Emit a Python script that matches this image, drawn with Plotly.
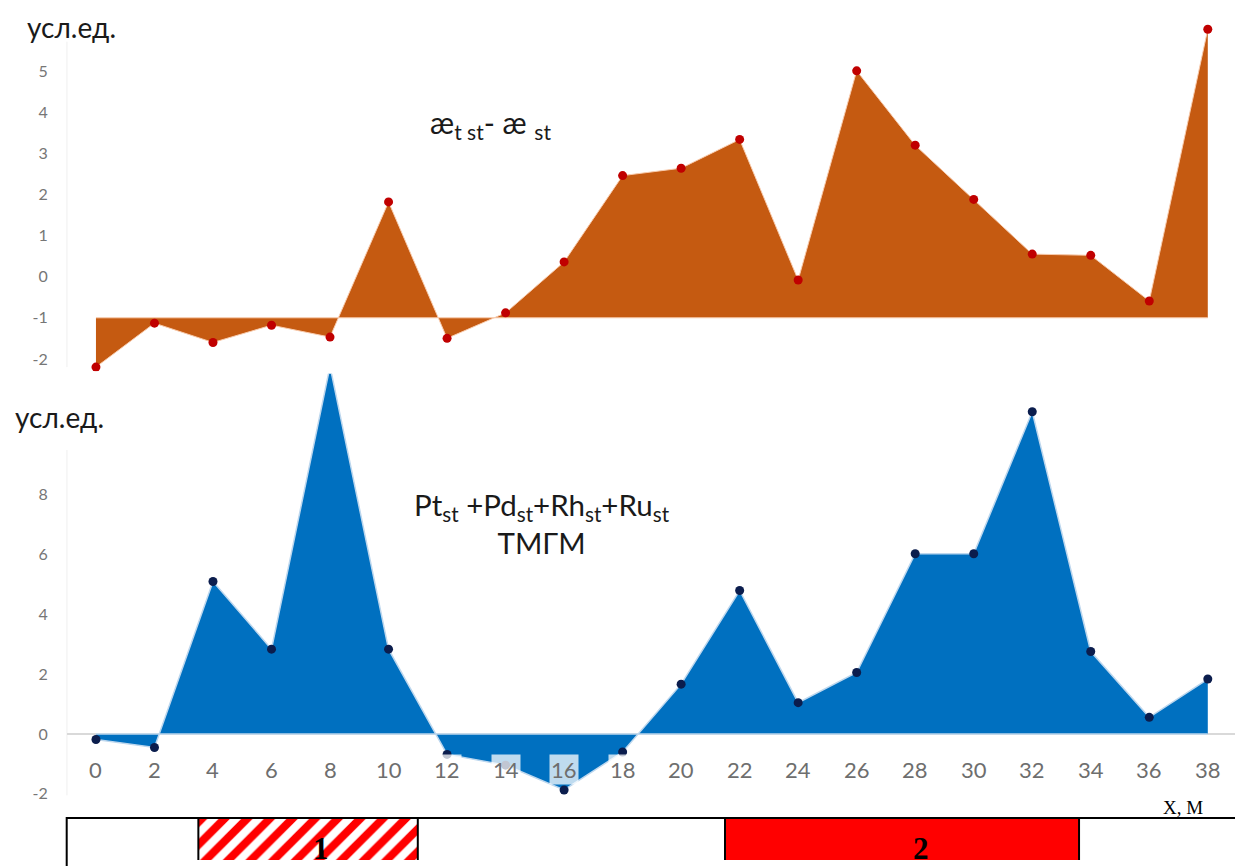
import plotly.graph_objects as go

# ---------------- data ----------------
distance = [0, 2, 4, 6, 8, 10, 12, 14, 16, 18, 20, 22, 24, 26, 28, 30, 32, 34, 36, 38]
x_tick_labels = ["0", "2", "4", "6", "8", "10", "12", "14", "16", "18",
                 "20", "22", "24", "26", "28", "30", "32", "34", "36", "38"]

# æ_t st - æ_st  (top chart)
kappa_diff = [-2.20, -1.13, -1.60, -1.18, -1.47, 1.82, -1.50, -0.88, 0.36, 2.46,
              2.64, 3.34, -0.08, 5.01, 3.20, 1.88, 0.55, 0.52, -0.59, 6.02]
kappa_base = -1          # horizontal axis crossing of the top chart
kappa_ticks = [-2, -1, 0, 1, 2, 3, 4, 5]
kappa_tick_labels = ["-2", "-1", "0", "1", "2", "3", "4", "5"]

# Pt_st + Pd_st + Rh_st + Ru_st  TMGM (bottom chart)
pgm_sum = [-0.18, -0.45, 5.10, 2.84, 12.3, 2.84, -0.68, -1.04, -1.87, -0.60,
           1.67, 4.80, 1.05, 2.06, 6.03, 6.03, 10.78, 2.76, 0.56, 1.84]
pgm_base = 0
pgm_ticks = [-2, 0, 2, 4, 6, 8]
pgm_tick_labels = ["-2", "0", "2", "4", "6", "8"]

# zones on the profile (bottom strip)
zone_labels = ["1", "2"]
zone_start = [3.5, 21.5]
zone_end = [11.0, 33.6]
zone_label_pos = [7.7, 28.2]

# ---------------- layout helpers ----------------
W, H = 1235, 866
VSCALE = 1.0 / 0.993   # compensates the slight vertical compression seen when rendered


def py(p):
    return max(0.0, min(1.0, 1 - p * VSCALE / H))


XDOM = [66.7 / W, 1.0]
XRANGE = [-1, 38.93]
FONT = "Lato"
TICK_COLOR = "#767676"

fig = go.Figure()

# ---- top chart: baseline + area ----
fig.add_trace(go.Scatter(
    x=distance, y=[kappa_base] * len(distance), mode="lines",
    line=dict(color="#f8cbad", width=1), xaxis="x", yaxis="y",
    showlegend=False, hoverinfo="skip"))
fig.add_trace(go.Scatter(
    x=distance, y=kappa_diff, mode="lines+markers", fill="tonexty",
    fillcolor="#c55a11", line=dict(color="#f8cbad", width=1),
    marker=dict(color="#c00000", size=9), xaxis="x", yaxis="y",
    showlegend=False))

# ---- bottom chart: baseline + area ----
fig.add_trace(go.Scatter(
    x=distance, y=[pgm_base] * len(distance), mode="lines",
    line=dict(color="#bdd7ee", width=1.5), xaxis="x2", yaxis="y2",
    showlegend=False, hoverinfo="skip"))
fig.add_trace(go.Scatter(
    x=distance, y=pgm_sum, mode="lines+markers", fill="tonexty",
    fillcolor="#0070c0", line=dict(color="#bdd7ee", width=1.5),
    marker=dict(color="#0b1d4d", size=9), xaxis="x2", yaxis="y2",
    showlegend=False))

# ---- zone strip ----
fig.add_trace(go.Bar(
    x=[zone_end[0] - zone_start[0]], base=[zone_start[0]], y=[-0.3], width=1.6,
    orientation="h", xaxis="x3", yaxis="y3", showlegend=False, cliponaxis=False,
    marker=dict(color="white", line=dict(color="black", width=2),
                pattern=dict(shape="/", fgcolor="#ff0000", bgcolor="white",
                             fgopacity=1, size=16, solidity=0.5,
                             fillmode="replace"))))
fig.add_trace(go.Bar(
    x=[zone_end[1] - zone_start[1]], base=[zone_start[1]], y=[-0.3], width=1.6,
    orientation="h", xaxis="x3", yaxis="y3", showlegend=False, cliponaxis=False,
    marker=dict(color="#ff0000", line=dict(color="black", width=2))))

hidden_x = dict(domain=XDOM, range=XRANGE, showgrid=False, zeroline=False,
                showticklabels=False, ticks="", showline=False)

fig.update_layout(
    width=W, height=H,
    margin=dict(l=0, r=0, t=0, b=0),
    paper_bgcolor="white", plot_bgcolor="rgba(0,0,0,0)",
    barmode="overlay",
    xaxis=dict(**hidden_x, anchor="y"),
    xaxis2=dict(**hidden_x, anchor="y2"),
    xaxis3=dict(**hidden_x, anchor="y3"),
    yaxis=dict(domain=[py(371.2), py(21.9)], range=[-2.3, 6.2], anchor="x",
               tickvals=kappa_ticks, ticktext=kappa_tick_labels,
               showgrid=False, zeroline=False,
               showline=False, ticks="", ticklabelstandoff=18,
               tickfont=dict(family=FONT, size=16, color=TICK_COLOR)),
    yaxis2=dict(domain=[py(796.8), py(373.7)], range=[-2.1, 12.05], anchor="x2",
                tickvals=pgm_ticks, ticktext=pgm_tick_labels,
                showgrid=False, zeroline=True,
                zerolinecolor="#d9d9d9", zerolinewidth=1.5,
                showline=False, ticks="", ticklabelstandoff=18,
                tickfont=dict(family=FONT, size=16, color=TICK_COLOR)),
    yaxis3=dict(domain=[0, py(818)], range=[-0.5, 0.5], anchor="x3",
                showgrid=False, zeroline=False, showticklabels=False,
                showline=False, ticks=""),
)

shapes = [
    # vertical axis lines
    dict(type="line", xref="x", yref="y", x0=-1, x1=-1, y0=-2.2, y1=5.72,
         line=dict(color="#d9d9d9", width=1)),
    dict(type="line", xref="x2", yref="y2", x0=-1, x1=-1, y0=-2.05, y1=9.5,
         line=dict(color="#d9d9d9", width=1)),
    # strip outline
    dict(type="rect", xref="paper", yref="paper", x0=66.7 / W, x1=1.02,
         y0=-0.05, y1=py(818), line=dict(color="black", width=2),
         fillcolor="rgba(0,0,0,0)", layer="above"),
]
fig.update_layout(shapes=shapes)

annotations = [
    dict(text="усл.ед.", xref="paper", yref="paper", x=25 / W, y=py(27),
         xanchor="left", yanchor="middle", showarrow=False,
         font=dict(family=FONT, size=28, color="#1a1a1a")),
    dict(text="усл.ед.", xref="paper", yref="paper", x=13 / W, y=py(417),
         xanchor="left", yanchor="middle", showarrow=False,
         font=dict(family=FONT, size=28, color="#1a1a1a")),
    dict(text="æ<sub>t st</sub>- æ <sub>st</sub>", xref="paper", yref="paper",
         x=490 / W, y=py(124), xanchor="center", yanchor="middle",
         showarrow=False, font=dict(family=FONT, size=30, color="#1a1a1a")),
    dict(text="Pt<sub>st</sub> +Pd<sub>st</sub>+Rh<sub>st</sub>+Ru<sub>st</sub><br>ТМГМ",
         xref="paper", yref="paper", x=542 / W, y=py(523), xanchor="center",
         yanchor="middle", showarrow=False,
         font=dict(family=FONT, size=29.5, color="#1a1a1a")),
    dict(text="X, M", xref="paper", yref="paper", x=1183 / W, y=py(807),
         xanchor="center", yanchor="middle", showarrow=False,
         font=dict(family="Liberation Serif", size=19, color="black")),
]
for xv, lab in zip(distance, x_tick_labels):
    annotations.append(dict(
        text=lab, xref="x2", yref="y2", x=xv, y=0, xanchor="center",
        yanchor="top", yshift=-20, showarrow=False,
        bgcolor="rgba(255,255,255,0.75)", borderpad=1,
        font=dict(family=FONT, size=22, color="#6e6e6e")))
for xv, lab in zip(zone_label_pos, zone_labels):
    annotations.append(dict(
        text="<b>" + lab + "</b>", xref="x3", yref="paper", x=xv, y=py(848),
        xanchor="center", yanchor="middle", showarrow=False,
        font=dict(family="Liberation Serif", size=31, color="black")))
fig.update_layout(annotations=annotations)

fig.write_html(
    "out.html",
    config={"displayModeBar": False},
    post_script="document.body.style.margin='0';document.body.style.overflow='hidden';")
